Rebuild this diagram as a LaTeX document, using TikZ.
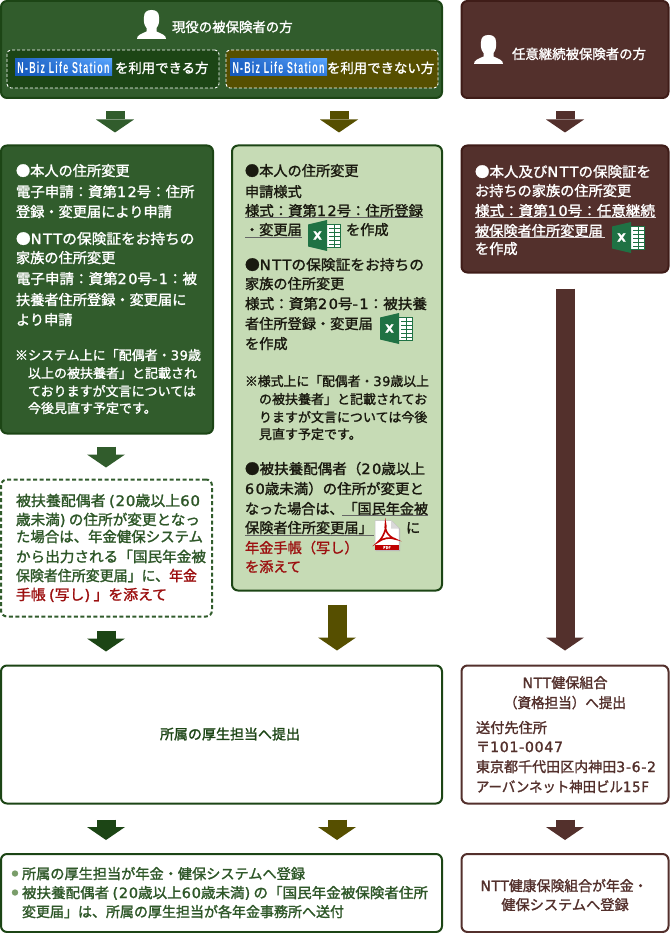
\documentclass[tikz,border=0pt]{standalone}
\usepackage{fontspec}
\setmainfont{Noto Sans CJK JP}[FakeBold=1.5]
\newfontfamily\logofont{Liberation Sans}[BoldFont={Liberation Sans Bold},LetterSpace=14]
\newfontfamily\latA{DejaVu Sans}[LetterSpace=10,FakeBold=1.5]
\newfontfamily\latB{DejaVu Sans}[LetterSpace=5,FakeBold=1.5]
\newcommand{\lt}[1]{{\latA #1}}
\newcommand{\lz}[1]{{\latB #1}}
\newcommand{\fw}[2]{\resizebox{#1pt}{\height}{#2}}
\usetikzlibrary{arrows.meta,shadings}
\definecolor{gA}{HTML}{315C2C}
\definecolor{gB}{HTML}{1C4515}
\definecolor{gC}{HTML}{564F00}
\definecolor{gD}{HTML}{C6DBB5}
\definecolor{bA}{HTML}{53302C}
\definecolor{bB}{HTML}{3F1C18}
\definecolor{rA}{HTML}{9C1010}
\definecolor{tA}{HTML}{1A1A10}
\definecolor{tB}{HTML}{2E5728}
\definecolor{xA}{HTML}{1F7244}
\definecolor{bul}{HTML}{7A9D6A}
\newcount\tcnt
\newcommand{\tx}[4][]{\global\advance\tcnt by 1 \node[linetext,#1] (t\the\tcnt) at (#2,#3) {#4};}
\newcommand{\uln}[3]{\draw[underl] (#1,#3) -- (#2,#3);}
\newcommand{\xlicon}[2]{%
 \begin{scope}[shift={(#1,#2)}]
  \fill[white,draw=xA,line width=.8pt] (16,4) rectangle (32.5,27);
  \foreach \yy in {8,12,16,20,24}{\draw[xA,line width=.7pt] (21,\yy) -- (32.5,\yy);}
  \draw[xA,line width=.7pt] (26,4) -- (26,27);
  \fill[xA] (0,4.5) -- (19,0) -- (19,31) -- (0,26.5) -- cycle;
  \global\advance\tcnt by 1
  \node[text=white,inner sep=0pt,font=\latB\bfseries\fontsize{11}{11}\selectfont] (t\the\tcnt) at (9.5,15.5) {X};
 \end{scope}}
\newcommand{\person}[2]{%
 \fill[white,shift={(#1,#2)}] (0,29) .. controls (0,25) and (4,24) .. (9.5,21.5) -- (9.5,18) .. controls (7,15) and (6.5,11) .. (7,7) .. controls (7,2) and (10,0) .. (14.5,0) .. controls (19,0) and (22,2) .. (22,7) .. controls (22.5,11) and (22,15) .. (19.5,18) -- (19.5,21.5) .. controls (25,24) and (29,25) .. (29,29) -- cycle;}
\newcommand{\nbiz}[2]{%
 \shade[shift={(#1,#2)},upper left=gradA,upper right=gradB,lower left=gradC,lower right=gradD] (0,0) rectangle (97,17);
 \global\advance\tcnt by 1
 \node[text=white,inner sep=0pt,font=\logofont\bfseries] (t\the\tcnt) at (#1+48.5,#2+8.5) {\resizebox{92pt}{11.5pt}{N-Biz Life Station}};}
\definecolor{gradA}{HTML}{1E62C4}
\definecolor{gradB}{HTML}{5AA6FF}
\definecolor{gradC}{HTML}{1458BC}
\definecolor{gradD}{HTML}{2C78DC}
\tikzset{
 linetext/.style={anchor=base west,inner sep=0pt,outer sep=0pt,font=\fontsize{14.2}{14}\selectfont,text=#1},
 linetext/.default=black,
 wtx/.style={text=white},
 dtx/.style={text=tA},
 rtx/.style={text=rA},
 gtx/.style={text=tB},
 btx/.style={text=bA},
 nbx/.style={font=\fontsize{13}{13}\selectfont},
 hsz/.style={font=\fontsize{13.4}{13}\selectfont},
 dsz/.style={font=\fontsize{14.5}{14}\selectfont},
 boxx/.style={rectangle,rounded corners=6pt,inner sep=0pt,outer sep=0pt,anchor=north west,line width=2pt},
 gbox/.style={boxx,fill=gA,draw=gB},
 lbox/.style={boxx,fill=gD,draw=gB},
 mbox/.style={boxx,fill=bA,draw=bB},
 wbox/.style={boxx,fill=white,draw=gB},
 wbbox/.style={boxx,fill=white,draw=bA},
 dbox/.style={boxx,fill=white,draw=gA,dash pattern=on 4pt off 2.5pt},
 innerdash/.style={boxx,rounded corners=4pt,line width=.9pt,draw=white,dash pattern=on 3pt off 2pt},
 blockarrow/.style={line width=19pt,draw=#1,-{Triangle[length=13pt,width=38pt,line width=0pt]}},
 underl/.style={line width=.8pt,draw=gray!80!black},
}
\begin{document}
\begin{tikzpicture}[x=1pt,y=-1pt]
\useasboundingbox (0,0) rectangle (670,933);
% boxes
\node[gbox,minimum width=441pt,minimum height=97pt] (top) at (1,1) {};
\node[mbox,minimum width=207pt,minimum height=97pt] (topr) at (461.5,1) {};
\node[innerdash,fill=gB,minimum width=212pt,minimum height=38pt] (in1) at (7,50) {};
\node[innerdash,fill=gC,minimum width=212pt,minimum height=38pt] (in2) at (226,50) {};
\node[gbox,minimum width=212pt,minimum height=288pt] (b1) at (1,145.5) {};
\node[lbox,minimum width=210pt,minimum height=445pt] (b2) at (232,145.5) {};
\node[mbox,minimum width=207pt,minimum height=127pt] (b3) at (461.5,145.5) {};
\node[dbox,minimum width=211pt,minimum height=137pt] (d1) at (1,479.5) {};
\node[wbox,minimum width=441pt,minimum height=138pt] (sub) at (1,665.5) {};
\node[wbbox,minimum width=207pt,minimum height=138pt] (subr) at (461.5,665.5) {};
\node[wbox,minimum width=441pt,minimum height=78pt] (fin) at (1,854) {};
\node[wbbox,minimum width=207pt,minimum height=78pt] (finr) at (461.5,854) {};
% axis coordinates for arrows
\coordinate (ax1) at (115,0);
\coordinate (ax2) at (339,0);
\coordinate (ax3) at (565,0);
\coordinate (ax4) at (106,0);
\coordinate (ax5) at (337,0);
% arrows
\draw[blockarrow=gA,shorten <=13pt,shorten >=13pt] (ax1 |- top.south) -- (ax1 |- b1.north);
\draw[blockarrow=gC,shorten <=13pt,shorten >=13pt] (ax2 |- top.south) -- (ax2 |- b2.north);
\draw[blockarrow=bA,shorten <=13pt,shorten >=13pt] (ax3 |- topr.south) -- (ax3 |- b3.north);
\draw[blockarrow=gA,shorten <=13pt,shorten >=12pt] (ax4 |- b1.south) -- (ax4 |- d1.north);
\draw[blockarrow=gB,shorten <=14pt,shorten >=14pt] (ax4 |- d1.south) -- (ax4 |- sub.north);
\draw[blockarrow=gC,shorten <=14pt,shorten >=15pt] (ax5 |- b2.south) -- (ax5 |- sub.north);
\draw[blockarrow=bA,shorten <=16pt,shorten >=15pt] (ax3 |- b3.south) -- (ax3 |- subr.north);
\draw[blockarrow=gB,shorten <=16pt,shorten >=14pt] (ax4 |- sub.south) -- (ax4 |- fin.north);
\draw[blockarrow=gC,shorten <=16pt,shorten >=14pt] (ax5 |- sub.south) -- (ax5 |- fin.north);
\draw[blockarrow=bA,shorten <=16pt,shorten >=14pt] (ax3 |- subr.south) -- (ax3 |- finr.north);
% headers
\person{137}{10}
\tx[wtx,hsz]{172}{32}{現役の被保険者の方}
\nbiz{15}{59}
\tx[wtx,hsz]{115}{73}{を利用できる方}
\nbiz{230}{59}
\tx[wtx,hsz]{327}{73}{を利用できない方}
\person{474}{35}
\tx[wtx,hsz]{512}{59}{任意継続被保険者の方}
% left box
\tx[wtx]{16}{176}{●本人の住所変更}
\tx[wtx]{16}{197}{\fw{178.5}{電子申請：資第\lt{12}号：住所}}
\tx[wtx]{16}{217}{登録・変更届により申請}
\tx[wtx]{16}{244}{\fw{178.5}{●\lt{NTT}の保険証をお持ちの}}
\tx[wtx]{16}{263}{家族の住所変更}
\tx[wtx]{16}{284}{\fw{181}{電子申請：資第\lt{20}号\lt{-1}：被}}
\tx[wtx]{16}{305}{扶養者住所登録・変更届に}
\tx[wtx]{16}{325}{より申請}
\tx[wtx,nbx]{15}{360}{\fw{186}{※システム上に「配偶者・\lz{39}歳}}
\tx[wtx,nbx]{28}{378}{以上の被扶養者」と記載され}
\tx[wtx,nbx]{28}{396}{ておりますが文言については}
\tx[wtx,nbx]{28}{413}{今後見直す予定です。}
% middle box
\tx[dtx]{245}{176}{●本人の住所変更}
\tx[dtx]{245}{197}{申請様式}
\tx[dtx]{245}{216}{\fw{178}{様式：資第\lt{12}号：住所登録}}
\uln{245}{423}{217.5}
\tx[dtx]{245}{235}{・変更届}
\uln{245}{302}{237}
\xlicon{308}{220}
\tx[dtx]{346}{235}{を作成}
\tx[dtx]{245}{270}{\fw{179}{●\lt{NTT}の保険証をお持ちの}}
\tx[dtx]{245}{289}{家族の住所変更}
\tx[dtx]{245}{309}{\fw{182}{様式：資第\lt{20}号\lt{-1}：被扶養}}
\tx[dtx]{245}{329}{者住所登録・変更届}
\xlicon{380}{313}
\tx[dtx]{245}{349}{を作成}
\tx[dtx,nbx]{245}{386}{\fw{184}{※様式上に「配偶者・\lz{39}歳以上}}
\tx[dtx,nbx]{259}{404}{の被扶養者」と記載されてお}
\tx[dtx,nbx]{259}{422}{りますが文言については今後}
\tx[dtx,nbx]{259}{439}{見直す予定です。}
\tx[dtx]{245}{474}{\fw{180}{●被扶養配偶者（\lt{20}歳以上}}
\tx[dtx]{245}{494}{\fw{179}{\lt{60}歳未満）の住所が変更と}}
\tx[dtx]{245}{514}{\fw{183}{なった場合は、「国民年金被}}
\uln{342}{428}{515.5}
\tx[dtx]{245}{533}{保険者住所変更届」}
\uln{245}{374}{535.5}
\tx[dtx]{406}{533}{に}
\tx[rtx]{245}{553}{年金手帳（写し）}
\tx[rtx]{245}{572}{を添えて}
% pdf icon
\begin{scope}[shift={(374,520)}]
 \fill[black!30] (1.5,1) -- (18,1) -- (26,9) -- (26,31) -- (1.5,31) -- cycle;
 \fill[white,draw=black!25,line width=.5pt] (1,0.5) -- (17,0.5) -- (25,8.5) -- (25,30) -- (1,30) -- cycle;
 \fill[black!15] (17,0.5) -- (17,8.5) -- (25,8.5) -- cycle;
 \draw[red!75!black,line width=1.6pt] (4,22) .. controls (9,18) and (13,8) .. (11.5,4) .. controls (10,8) and (13,16) .. (21,19) .. controls (16,17) and (9,18) .. cycle;
 \fill[red!75!black] (1,25) rectangle (25,30);
 \global\advance\tcnt by 1
 \node[text=white,inner sep=0pt,font=\fontsize{4}{4}\selectfont] (t\the\tcnt) at (13,27.5) {PDF};
\end{scope}
% right box
\tx[wtx]{475}{177}{\fw{176}{●本人及び\lt{NTT}の保険証を}}
\tx[wtx]{475}{196}{お持ちの家族の住所変更}
\tx[wtx]{475}{216}{\fw{180}{様式：資第\lt{10}号：任意継続}}
\draw[line width=.8pt,draw=white!80!bA] (475,217.5) -- (656,217.5);
\tx[wtx]{475}{236}{被保険者住所変更届}
\draw[line width=.8pt,draw=white!80!bA] (475,237) -- (605,237);
\xlicon{612}{222}
\tx[wtx]{475}{254}{を作成}
% dashed box
\tx[gtx,dsz]{16}{506}{\fw{184}{被扶養配偶者 \lz{(20}歳以上\lz{60}}}
\tx[gtx,dsz]{16}{525}{\fw{184}{歳未満\lz{)} の住所が変更となっ}}
\tx[gtx,dsz]{16}{542}{\fw{187}{た場合は、年金健保システム}}
\tx[gtx,dsz]{16}{562}{\fw{190}{から出力される「国民年金被}}
\tx[gtx,dsz]{16}{581}{\fw{181}{保険者住所変更届」に、\textcolor{rA}{年金}}}
\tx[rtx,dsz]{16}{600}{\fw{151}{手帳 \lz{(}写し\lz{)} 」を添えて}}
% submit
\node[inner sep=0pt,text=gB,font=\fontsize{14}{14}\selectfont] (subt) at (230,734) {所属の厚生担当へ提出};
\tx[btx,anchor=base]{565}{688}{\fw{85}{\lz{NTT}健保組合}}
\tx[btx,anchor=base]{565}{708}{\fw{122}{（資格担当）へ提出}}
\tx[btx]{476}{733}{送付先住所}
\tx[btx]{476}{752}{\fw{87}{〒\lz{101-0047}}}
\tx[btx]{476}{772}{\fw{180}{東京都千代田区内神田\lz{3-6-2}}}
\tx[btx]{476}{792}{\fw{173}{アーバンネット神田ビル\lz{15F}}}
% final
\fill[bul] (15,873.5) circle (3.2);
\tx[gtx]{22}{879}{\fw{283}{所属の厚生担当が年金・健保システムへ登録}}
\fill[bul] (15,892.5) circle (3.2);
\tx[gtx]{22}{898}{\fw{406}{被扶養配偶者 \lz{(20}歳以上\lz{60}歳未満\lz{)} の「国民年金被保険者住所}}
\tx[gtx]{22}{917}{\fw{322}{変更届」は、所属の厚生担当が各年金事務所へ送付}}
\tx[btx,anchor=base]{564}{891}{\fw{167}{\lz{NTT}健康保険組合が年金・}}
\tx[btx,anchor=base]{565}{910}{健保システムへ登録}
\end{tikzpicture}
\end{document}
